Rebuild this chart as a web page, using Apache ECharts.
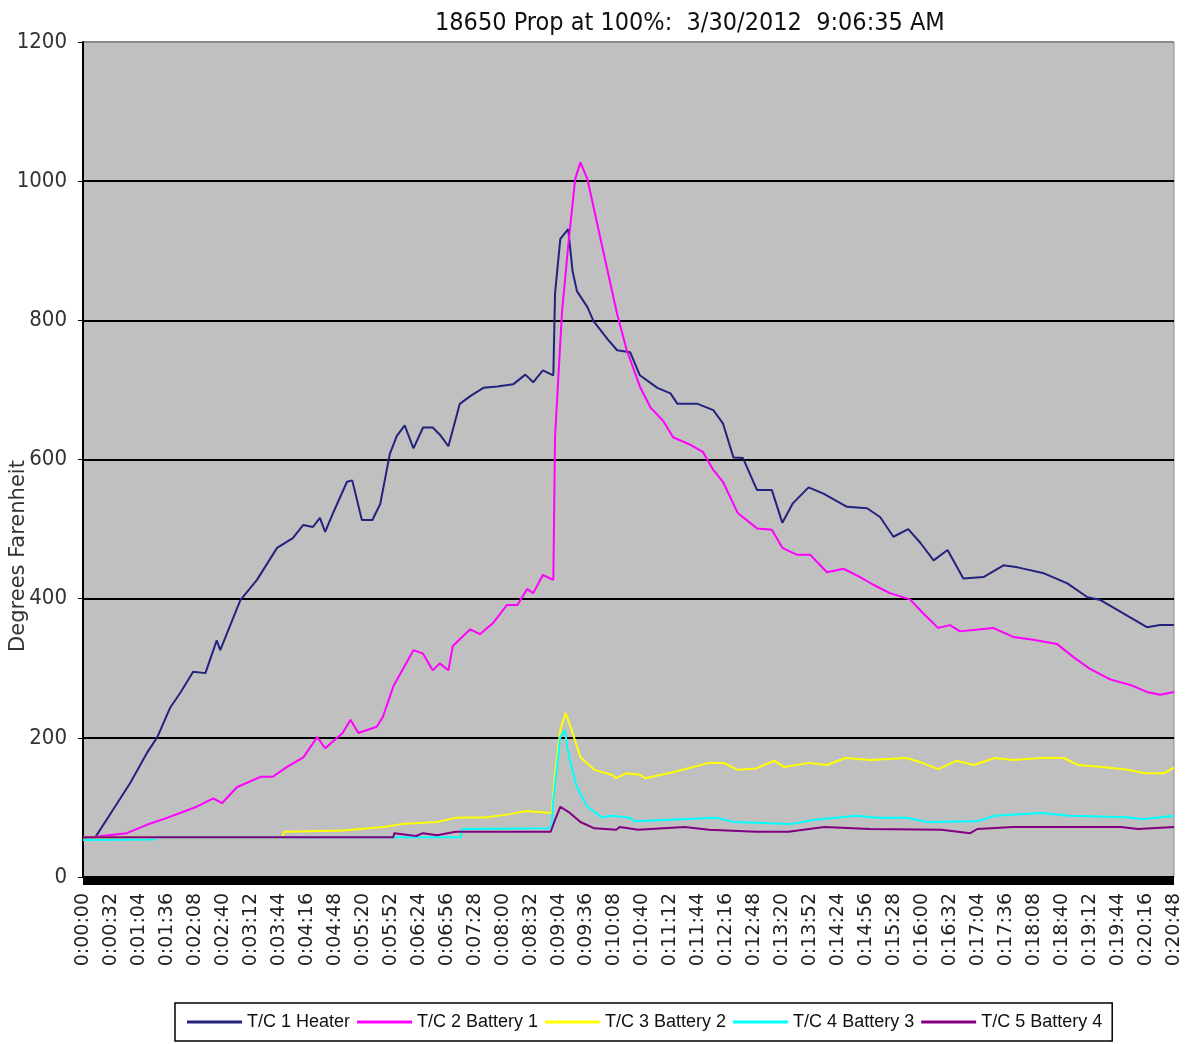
<!DOCTYPE html>
<html>
<head>
<meta charset="utf-8">
<title>18650 Prop at 100%</title>
<script src="https://cdn.jsdelivr.net/npm/echarts@6/dist/echarts.min.js"></script>
<style>
html,body{margin:0;padding:0;background:#fff;}
#main{width:1190px;height:1044px;}
</style>
</head>
<body>
<div id="main"></div>
<script>
// times are seconds from start, values are degrees F
var seriesNames = ['T/C 1 Heater', 'T/C 2 Battery 1', 'T/C 3 Battery 2', 'T/C 4 Battery 3', 'T/C 5 Battery 4'];
var seriesColors = ['#23237e', '#ff00ff', '#ffff00', '#00ffff', '#800080'];

var heaterT = [0,14,34,54,73,85,100,111,126,140,153,157,180,199,222,240,252,263,271,277,286,302,308,319,331,340,351,359,368,378,389,400,408,418,431,443,458,474,492,506,515,526,538,540,546,555,560,565,577,584,600,611,626,637,657,672,680,703,721,732,744,755,771,788,800,812,830,847,874,897,912,927,944,958,973,989,1007,1030,1053,1069,1098,1126,1149,1164,1190,1217,1232,1248];
var heaterV = [57,57,96,135,178,201,244,264,295,293,340,326,398,427,473,487,506,503,516,496,523,568,570,513,513,536,608,634,649,616,646,646,636,619,680,691,703,705,708,722,711,728,721,839,917,931,871,842,819,799,773,757,754,721,703,695,680,680,671,652,603,602,556,556,509,537,560,551,532,530,517,489,500,480,455,470,429,431,448,445,437,422,402,398,379,359,362,362];

var batt1T = [0,14,50,73,96,111,130,149,159,176,203,217,233,252,268,277,297,306,315,336,343,355,378,389,400,408,418,423,443,454,469,485,497,508,515,526,538,540,548,555,563,569,577,592,611,622,637,649,664,675,695,709,721,732,749,771,788,800,817,832,851,870,889,904,923,946,961,978,992,1003,1041,1064,1087,1114,1133,1152,1175,1198,1217,1232,1248];
var batt1V = [57,58,63,75,85,92,101,113,106,129,144,144,158,172,201,185,207,226,207,216,230,274,326,321,297,307,297,332,356,349,365,391,391,414,408,434,427,634,813,907,1003,1027,1003,917,809,757,705,675,655,632,621,611,585,568,523,501,499,473,463,463,438,443,431,420,408,399,379,358,362,353,358,345,341,335,316,299,284,276,266,262,266];

var batt2T = [0,228,230,298,344,364,405,426,462,487,507,536,540,546,552,559,569,585,605,610,621,637,643,676,716,733,749,770,791,802,831,851,872,901,942,958,978,999,1019,1043,1064,1096,1122,1138,1166,1195,1215,1236,1248];
var batt2V = [57,57,65,67,72,76,79,85,86,90,95,92,149,211,236,211,172,154,147,142,149,147,142,151,164,164,154,156,167,158,164,161,171,168,171,165,155,167,161,171,168,171,171,161,158,154,149,149,157];

var batt3T = [0,82,84,432,434,532,536,538,546,551,556,565,577,593,605,626,631,685,725,745,810,835,885,909,942,966,1023,1043,1096,1129,1195,1211,1248];
var batt3V = [53,54,57,57,69,70,72,111,201,211,172,129,101,86,88,85,80,83,85,79,76,82,88,85,85,79,80,88,92,88,86,83,88];

var batt4T = [0,355,356,381,389,405,426,535,540,546,556,569,585,610,614,635,688,716,770,807,848,900,982,1015,1023,1064,1187,1207,1248];
var batt4V = [57,57,63,59,63,60,65,65,82,101,93,79,70,68,72,68,72,68,65,65,72,69,68,63,69,72,72,69,72];

var yTicks = [0, 200, 400, 600, 800, 1000, 1200];

var narrow = "'Liberation Sans Narrow', 'DejaVu Sans Condensed', 'Liberation Sans', sans-serif";

function pairs(ts, vs) {
    var out = [];
    for (var i = 0; i < ts.length; i++) {
        out.push([ts[i], vs[i]]);
    }
    return out;
}

function fmtTime(s) {
    var m = Math.floor(s / 60);
    var sec = s % 60;
    return '0:' + (m < 10 ? '0' : '') + m + ':' + (sec < 10 ? '0' : '') + sec;
}

var allT = [heaterT, batt1T, batt2T, batt3T, batt4T];
var allV = [heaterV, batt1V, batt2V, batt3V, batt4V];

var series = [];
for (var k = 0; k < seriesNames.length; k++) {
    series.push({
        name: seriesNames[k],
        type: 'line',
        showSymbol: false,
        symbol: 'none',
        data: pairs(allT[k], allV[k]),
        lineStyle: {width: 2, color: seriesColors[k]},
        itemStyle: {color: seriesColors[k]}
    });
}

var chart = echarts.init(document.getElementById('main'));
chart.setOption({
    animation: false,
    backgroundColor: '#fff',
    title: {
        text: '18650 Prop at 100%:  3/30/2012  9:06:35 AM',
        left: 430,
        top: 6,
        textStyle: {fontFamily: narrow, fontSize: 25, fontWeight: 'normal', color: '#111'}
    },
    grid: {
        left: 83,
        right: 16,
        top: 42,
        bottom: 167,
        show: true,
        backgroundColor: '#c0c0c0',
        borderColor: '#8a8a8a',
        borderWidth: 1
    },
    xAxis: {
        type: 'value',
        min: 0,
        max: 1248,
        interval: 32,
        offset: 4,
        axisLine: {show: true, onZero: false, lineStyle: {color: '#000', width: 7, cap: 'butt'}},
        axisTick: {show: false},
        splitLine: {show: false},
        axisLabel: {
            rotate: 90,
            margin: 12,
            showMinLabel: true,
            showMaxLabel: true,
            fontFamily: "'DejaVu Sans', sans-serif",
            fontSize: 19,
            color: '#222',
            formatter: function (v) { return fmtTime(v); }
        }
    },
    yAxis: {
        type: 'value',
        min: yTicks[0],
        max: yTicks[yTicks.length - 1],
        interval: 200,
        axisLine: {show: true, lineStyle: {color: '#000', width: 2}},
        axisTick: {show: true, length: 5, lineStyle: {color: '#000'}},
        axisLabel: {
            margin: 16,
            fontFamily: narrow,
            fontSize: 22,
            color: '#333',
            formatter: function (v) { return String(v); }
        },
        splitLine: {
            show: true,
            lineStyle: {color: ['#000', '#000', '#000', '#000', '#000', '#000', '#8a8a8a'], width: 2}
        }
    },
    legend: {
        data: seriesNames,
        left: 175,
        top: 1003,
        padding: [10, 10, 10, 12],
        itemGap: 7,
        itemWidth: 55,
        itemHeight: 3,
        icon: 'rect',
        borderColor: '#000',
        borderWidth: 1.5,
        textStyle: {fontFamily: "'Liberation Sans', sans-serif", fontSize: 18, color: '#111'}
    },
    graphic: [{
        type: 'text',
        x: 19,
        y: 556,
        rotation: Math.PI / 2,
        style: {
            text: 'Degrees Farenheit',
            font: "21px 'DejaVu Sans', sans-serif",
            fill: '#333',
            textAlign: 'center',
            textVerticalAlign: 'middle'
        }
    }],
    series: series
});
</script>
</body>
</html>
